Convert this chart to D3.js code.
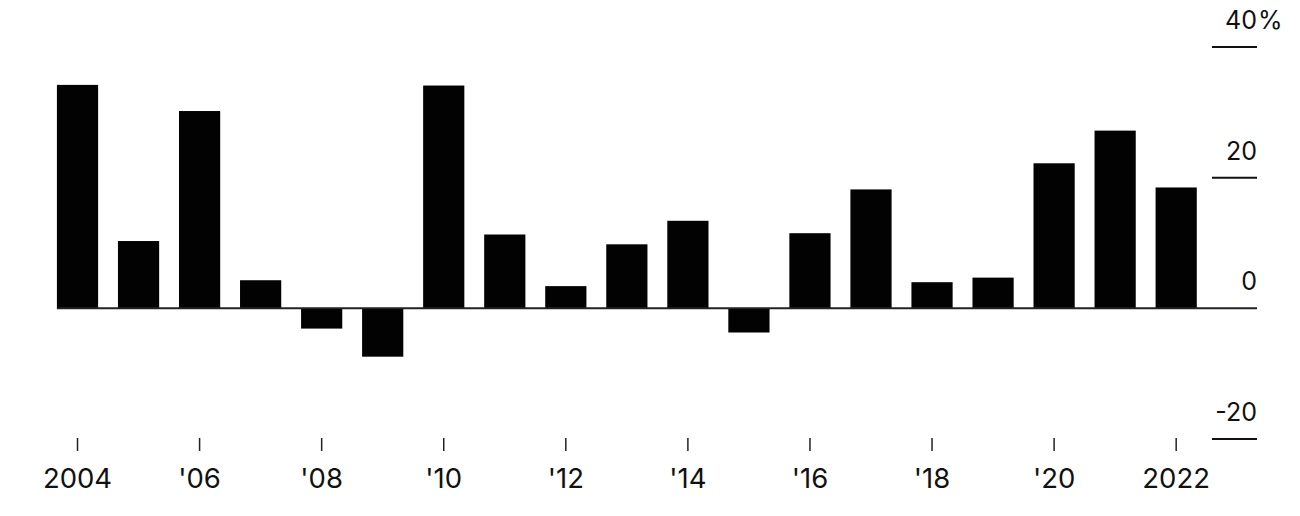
<!DOCTYPE html>
<html>
<head>
<meta charset="utf-8">
<script src="https://cdn.jsdelivr.net/npm/d3@7"></script>
<style>
  html, body { margin: 0; padding: 0; background: #fff; }
  svg { display: block; }
  text { font-family: Inter, "Liberation Sans", Arial, sans-serif; fill: #111; }
</style>
</head>
<body>
<svg id="chart" width="1300" height="516"></svg>
<script>
const years = [2004,2005,2006,2007,2008,2009,2010,2011,2012,2013,2014,2015,2016,2017,2018,2019,2020,2021,2022];
const values = [34.2,10.3,30.2,4.3,-3.1,-7.4,34.1,11.3,3.4,9.8,13.4,-3.7,11.5,18.2,4.0,4.7,22.2,27.2,18.5];
const xTickYears = [2004,2006,2008,2010,2012,2014,2016,2018,2020,2022];
const xTickLabels = ["2004","'06","'08","'10","'12","'14","'16","'18","'20","2022"];
const yTicks = [-20,0,20,40];
const yTickLabels = ["-20","0","20","40"];

const svg = d3.select("#chart");

const x = d3.scaleBand()
  .domain(years)
  .range([47, 1206.7])
  .paddingInner(0.325)
  .paddingOuter(0.1625);

const y = d3.scaleLinear().domain([-20, 40]).range([439, 47]);

// bars
svg.append("g").selectAll("rect")
  .data(years.map((yr, i) => ({yr, v: values[i]})))
  .join("rect")
  .attr("x", d => x(d.yr))
  .attr("width", x.bandwidth())
  .attr("y", d => y(Math.max(0, d.v)))
  .attr("height", d => Math.abs(y(d.v) - y(0)))
  .attr("fill", "#030203");

// right axis grid lines and labels
const gx1 = 1212, gx2 = 1257;
const yg = svg.append("g");
yTicks.forEach((t, i) => {
  if (t === 0) {
    yg.append("line")
      .attr("x1", x(years[0])).attr("x2", gx2)
      .attr("y1", y(0)).attr("y2", y(0))
      .attr("stroke", "#222").attr("stroke-width", 2);
  } else {
    yg.append("line")
      .attr("x1", gx1).attr("x2", gx2)
      .attr("y1", y(t)).attr("y2", y(t))
      .attr("stroke", "#111").attr("stroke-width", 2);
  }
  yg.append("text")
    .attr("x", gx2)
    .attr("y", y(t) - 18)
    .attr("text-anchor", "end")
    .style("font-size", "25px")
    .text(yTickLabels[i]);
  if (t === 40) {
    yg.append("text")
      .attr("x", gx2 + 1)
      .attr("y", y(t) - 18)
      .attr("text-anchor", "start")
      .style("font-size", "25px")
      .text("%");
  }
});

// bottom ticks and labels
const xg = svg.append("g");
xTickYears.forEach((yr, i) => {
  const cx = x(yr) + x.bandwidth() / 2;
  xg.append("line")
    .attr("x1", cx).attr("x2", cx)
    .attr("y1", 438).attr("y2", 451)
    .attr("stroke", "#222").attr("stroke-width", 1.5);
  xg.append("text")
    .attr("x", cx)
    .attr("y", 488)
    .attr("text-anchor", "middle")
    .style("font-size", "27.5px")
    .text(xTickLabels[i]);
});
</script>
</body>
</html>
